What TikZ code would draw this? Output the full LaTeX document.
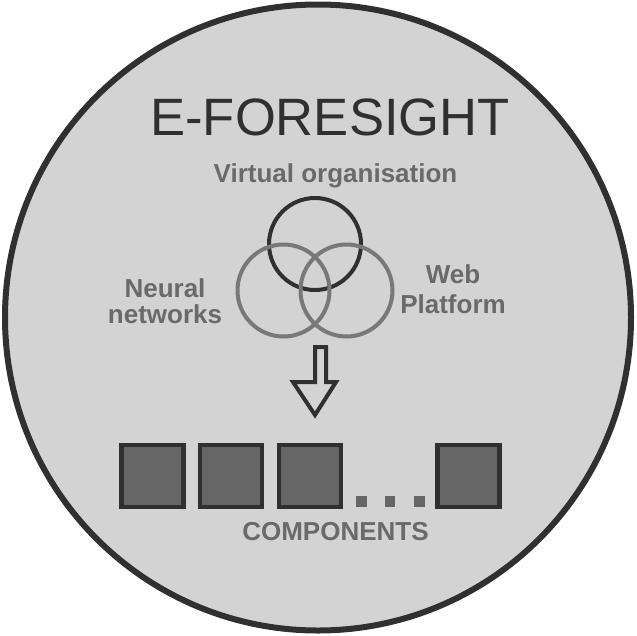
\documentclass[tikz,border=0pt]{standalone}
\usepackage{fontspec}
\setmainfont{Liberation Sans}
\definecolor{bg}{HTML}{D3D3D3}
\definecolor{dark}{HTML}{303030}
\definecolor{txtgray}{HTML}{6A6A6A}
\definecolor{ringgray}{HTML}{787878}
\definecolor{boxfill}{HTML}{666666}
\tikzset{
  lbl/.style={text=txtgray, font=\bfseries\fontsize{26}{26}\selectfont, inner sep=0pt, anchor=base},
  ring/.style={circle, draw=#1, line width=4pt, minimum size=92pt, inner sep=0pt},
  comp/.style={draw=dark, fill=boxfill, line width=4.5pt, minimum size=62pt, inner sep=0pt},
  dotbox/.style={fill=boxfill, minimum size=10.5pt, inner sep=0pt}
}
\begin{document}
\begin{tikzpicture}[x=1pt,y=-1pt]
\useasboundingbox (0,0) rectangle (637,635);
\node[circle, draw=dark, fill=bg, line width=6pt, minimum size=626pt, inner sep=0pt] (outer) at (318,317.5) {};
\node[text=dark, font=\fontsize{52.6}{53}\selectfont, inner sep=0pt, anchor=base] (title) at (330,135) {E-FORESIGHT};
\node[lbl] (vo) at (335.5,182) {Virtual organisation};
\node[ring=dark] (c1) at (315,244) {};
\node[ring=ringgray] (c2) at (283.5,290.5) {};
\node[ring=ringgray] (c3) at (346.5,290.5) {};
\node[lbl, align=center, font=\bfseries\fontsize{26}{26}\selectfont] (nn) at (165,323) {Neural\\networks};
\node[lbl, align=center, font=\bfseries\fontsize{26}{30}\selectfont] (wp) at (453,313) {Web\\Platform};
\draw[draw=dark, line width=4pt, line join=miter]
  (315,347) -- (326,347) -- (326,382) -- (336,382) -- (315,415) -- (293,382) -- (315,382) -- cycle;
\node[comp] (s1) at (152.5,476) {};
\node[comp] (s2) at (231,476) {};
\node[comp] (s3) at (310,476) {};
\node[comp] (s4) at (468.5,476) {};
\node[dotbox] (d1) at (361.5,501.5) {};
\node[dotbox] (d2) at (390,501.5) {};
\node[dotbox] (d3) at (419.5,501.5) {};
\node[lbl, font=\bfseries\fontsize{26}{26}\selectfont] (cp) at (335.5,540) {COMPONENTS};
\end{tikzpicture}
\end{document}
